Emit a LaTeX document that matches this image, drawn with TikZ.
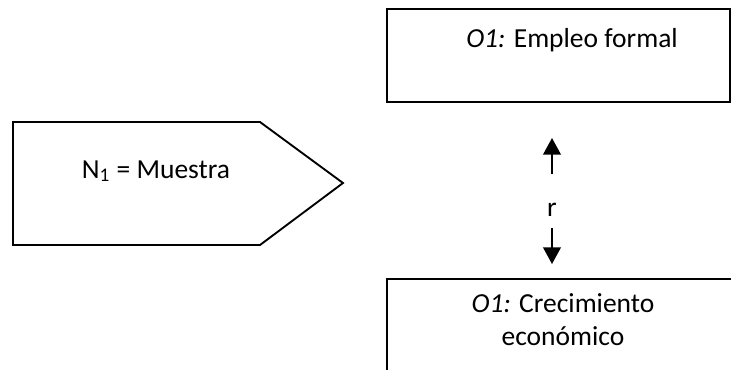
\documentclass[tikz,border=0pt]{standalone}
\usepackage{fontspec}
\setmainfont{Carlito}
\usetikzlibrary{arrows.meta}

\begin{document}
\begin{tikzpicture}[x=0.48pt,y=-0.48pt,line width=0.9pt,
  every node/.style={font=\fontsize{13.2pt}{15.4pt}\selectfont},
  flecha/.style={-{Triangle[width=8.5pt,length=8pt]}}]
\clip (0,0) rectangle (731,369);
\draw (13,122)--(260,122)--(343,183)--(260,245)--(13,245)--cycle;
\node[anchor=base] (muestra) at (156,178) {N\textsubscript{1} = Muestra};
\draw (387,9)--(730,9)--(730,102)--(387,102)--cycle;
\node[anchor=base] (empleo) at (572,47) {\textit{O1:} Empleo formal};
\draw (387,380)--(387,279)--(740,279);
\node[anchor=base, align=center] (crec) at (563,345) {\textit{O1:} Crecimiento\\econ\'omico};
\node[anchor=base] (r) at (552,216) {r};
\coordinate (arriba) at (552,138);
\coordinate (abajo) at (552,264);
\draw[flecha, shorten <=10pt] (r) -- (arriba);
\draw[flecha, shorten <=2pt] (r) -- (abajo);
\end{tikzpicture}
\end{document}
